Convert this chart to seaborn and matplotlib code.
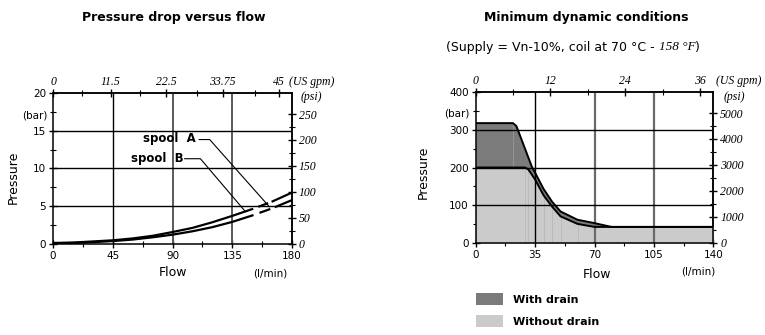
import numpy as np
import pandas as pd
import matplotlib
matplotlib.use("Agg")
import matplotlib.pyplot as plt
import seaborn as sns
from matplotlib.patches import Patch

# ---------------- data ----------------
flow_lmin = [0, 15, 30, 45, 60, 75, 90, 105, 120, 135, 150, 165, 180]
spool_a_bar = [0.1, 0.15, 0.3, 0.45, 0.7, 1.05, 1.55, 2.1, 2.85, 3.7, 4.6, 5.6, 6.8]
spool_b_bar = [0.05, 0.1, 0.2, 0.35, 0.55, 0.85, 1.2, 1.65, 2.2, 2.9, 3.75, 4.7, 5.8]

drain_flow = [0, 22, 24, 33, 35, 40, 45, 50, 60, 70, 80, 140]
drain_bar = [318, 318, 310, 203, 186, 143, 109, 83, 61, 52, 42, 42]
nodrain_flow = [0, 29, 31, 35, 40, 45, 50, 60, 70, 140]
nodrain_bar = [200, 200, 195, 168, 126, 96, 70, 50, 42, 42]

left_xticks = [0, 45, 90, 135, 180]
left_yticks = [0, 5, 10, 15, 20]
left_gpm_ticks = [0, 11.5, 22.5, 33.75, 45]
left_gpm_labels = ["0", "11.5", "22.5", "33.75", "45"]
left_psi_ticks = [0, 50, 100, 150, 200, 250]

right_xticks = [0, 35, 70, 105, 140]
right_yticks = [0, 100, 200, 300, 400]
right_gpm_ticks = [0, 12, 24, 36]
right_psi_ticks = [0, 1000, 2000, 3000, 4000, 5000]

# break (gap) positions on the spool curves, in l/min
break_a = [150.8, 154.6, 162.0, 164.6]
break_b = [151.0, 155.5, 163.7, 167.0]

# annotation leader lines
label_a = ("spool  A", 68, 14.0)
label_b = ("spool  B", 59, 11.35)
leader_a = ([110, 118, 163], [13.85, 13.85, 4.9])
leader_b = ([99, 111, 145], [11.3, 11.3, 4.25])

# ---------------- style ----------------
sns.set_theme(style="white")
plt.rcParams["font.family"] = ["DejaVu Sans"]
plt.rcParams["lines.scale_dashes"] = False
plt.rcParams["text.color"] = "black"
plt.rcParams["axes.labelcolor"] = "black"
plt.rcParams["xtick.color"] = "black"
plt.rcParams["ytick.color"] = "black"

W, H = 765, 335
fig = plt.figure(figsize=(W / 100, H / 100), dpi=100)
fig.patch.set_facecolor("white")


def fx(px):
    return px / W


def fy(py):
    return 1 - py / H


SERIF = dict(family="Liberation Serif", style="italic", size=8.5, color="black")
TICK_FS = 7.5
DARK = "#7b7b7b"
LIGHT = "#cbcbcb"


def style_axes(ax, xticks, yticks, xminor, yminor):
    ax.set_facecolor("white")
    for s in ax.spines.values():
        s.set_visible(True)
        s.set_color("black")
        s.set_linewidth(1.1)
    ax.set_xticks(xticks)
    ax.set_yticks(yticks)
    ax.set_xticks(xminor, minor=True)
    ax.set_yticks(yminor, minor=True)
    ax.tick_params(which="major", direction="inout", length=6, width=1, colors="black",
                   labelsize=TICK_FS, left=True, bottom=True, pad=2)
    ax.tick_params(which="minor", direction="inout", length=4, width=0.8, colors="black",
                   left=True, bottom=True)
    ax.grid(False)
    ax.set_xlabel("")
    ax.set_ylabel("")


# ================= LEFT CHART =================
axL = fig.add_axes([fx(53), fy(243.7), fx(292) - fx(53), fy(93.3) - fy(243.7)])
axL.set_xlim(0, 180)
axL.set_ylim(0, 20)
style_axes(axL, left_xticks, left_yticks,
           np.arange(22.5, 180, 45), np.arange(2.5, 20, 5))

for v, c, lw in [(45, "black", 1.0), (90, "#5a5a5a", 1.4), (135, "#5a5a5a", 1.4)]:
    axL.axvline(v, color=c, lw=lw, zorder=1)
for h in [5, 10, 15]:
    axL.axhline(h, color="black", lw=1.0, zorder=1)

df_left = pd.DataFrame({"flow": flow_lmin * 2,
                        "bar": spool_a_bar + spool_b_bar,
                        "spool": ["A"] * len(flow_lmin) + ["B"] * len(flow_lmin)})
for name, brk in [("A", break_a), ("B", break_b)]:
    d = df_left[df_left.spool == name]
    sns.lineplot(data=d, x="flow", y="bar", ax=axL, color="black", lw=1.6,
                 estimator=None, sort=False, zorder=3)
    line = axL.lines[-1]
    pts = axL.transData.transform(np.column_stack([d.flow.values, d.bar.values]))
    seg = np.hypot(np.diff(pts[:, 0]), np.diff(pts[:, 1])) * 72 / 100
    cum = np.concatenate([[0], np.cumsum(seg)])
    L = np.interp(brk, d.flow.values, cum)
    pattern = (L[0], L[1] - L[0], L[2] - L[1], L[3] - L[2], cum[-1] - L[3] + 50, 1)
    line.set_linestyle((0, pattern))
    line.set_solid_capstyle("butt")
    line.set_dash_capstyle("butt")

axL.set_xlabel("")
axL.set_ylabel("")

for (txt, x, y), (lx, ly) in [(label_a, leader_a), (label_b, leader_b)]:
    axL.text(x, y, txt, fontsize=8.5, fontweight="bold", va="center", ha="left", zorder=5)
    axL.plot(lx, ly, color="black", lw=0.8, zorder=4)

secxL = axL.secondary_xaxis("top", functions=(lambda x: x / 3.785, lambda g: g * 3.785))
secxL.set_xticks(left_gpm_ticks)
secxL.set_xticklabels(left_gpm_labels, fontdict=SERIF)
secxL.set_xticks(np.arange(5.75, 45, 11.5), minor=True)
secxL.tick_params(which="major", direction="inout", length=6, width=1, pad=1)
secxL.tick_params(which="minor", direction="inout", length=4, width=0.8)

secyL = axL.secondary_yaxis("right", functions=(lambda b: b * 14.5, lambda p: p / 14.5))
secyL.set_yticks(left_psi_ticks)
secyL.set_yticklabels([str(t) for t in left_psi_ticks], fontdict=SERIF)
secyL.set_yticks(np.arange(25, 275, 50), minor=True)
secyL.tick_params(which="major", direction="inout", length=6, width=1, pad=2)
secyL.tick_params(which="minor", direction="inout", length=4, width=0.8)

fig.text(fx(174), fy(18), "Pressure drop versus flow", ha="center", va="center",
         fontsize=9, fontweight="bold")
fig.text(fx(13), fy(177), "Pressure", rotation=90, ha="center", va="center", fontsize=9)
fig.text(fx(35), fy(115), "(bar)", ha="center", va="center", fontsize=TICK_FS)
fig.text(fx(173), fy(272), "Flow", ha="center", va="center", fontsize=9)
fig.text(fx(270), fy(273), "(l/min)", ha="center", va="center", fontsize=TICK_FS)
fig.text(fx(289), fy(82), "(US gpm)", ha="left", va="center", **SERIF)
fig.text(fx(311), fy(97), "(psi)", ha="center", va="center", **SERIF)

# ================= RIGHT CHART =================
axR = fig.add_axes([fx(475.7), fy(242.7), fx(713.3) - fx(475.7), fy(92.3) - fy(242.7)])
axR.set_xlim(0, 140)
axR.set_ylim(0, 400)
style_axes(axR, right_xticks, right_yticks,
           np.arange(17.5, 140, 35), np.arange(50, 400, 100))

axR.fill_between(drain_flow, drain_bar, color=DARK, lw=0, zorder=1)
axR.fill_between(nodrain_flow, nodrain_bar, color=LIGHT, lw=0, zorder=1.1)
axR.vlines(drain_flow[1], nodrain_bar[0], drain_bar[1], color="#9a9a9a", lw=0.6, zorder=1.2)
axR.vlines(nodrain_flow[1:-2], 0, nodrain_bar[1:-2], color="#b8b8b8", lw=0.6, zorder=1.2)

for v, c, lw in [(35, "black", 1.0), (70, "#6a6a6a", 1.6), (105, "#6a6a6a", 1.6)]:
    axR.axvline(v, color=c, lw=lw, zorder=2)
for h in [100, 200, 300]:
    axR.axhline(h, color="black", lw=1.0, zorder=2)

df_right = pd.DataFrame({"flow": drain_flow + nodrain_flow,
                         "bar": drain_bar + nodrain_bar,
                         "cond": ["With drain"] * len(drain_flow) + ["Without drain"] * len(nodrain_flow)})
sns.lineplot(data=df_right, x="flow", y="bar", units="cond", estimator=None, sort=False,
             ax=axR, color="black", lw=1.4, zorder=3)
axR.set_xlabel("")
axR.set_ylabel("")

secxR = axR.secondary_xaxis("top", functions=(lambda x: x / 3.67, lambda g: g * 3.67))
secxR.set_xticks(right_gpm_ticks)
secxR.set_xticklabels([str(t) for t in right_gpm_ticks], fontdict=SERIF)
secxR.set_xticks(np.arange(6, 38, 12), minor=True)
secxR.tick_params(which="major", direction="inout", length=6, width=1, pad=1)
secxR.tick_params(which="minor", direction="inout", length=4, width=0.8)

secyR = axR.secondary_yaxis("right", functions=(lambda b: b * 14.5, lambda p: p / 14.5))
secyR.set_yticks(right_psi_ticks)
secyR.set_yticklabels([str(t) for t in right_psi_ticks], fontdict=SERIF)
secyR.set_yticks(np.arange(500, 5500, 1000), minor=True)
secyR.tick_params(which="major", direction="inout", length=6, width=1, pad=2)
secyR.tick_params(which="minor", direction="inout", length=4, width=0.8)

fig.text(fx(586), fy(18), "Minimum dynamic conditions", ha="center", va="center",
         fontsize=9, fontweight="bold")
t1 = fig.text(fx(446), fy(47), "(Supply = Vn-10%, coil at 70 °C - ", ha="left", va="center",
              fontsize=9)
a2 = axL.annotate("158 °F", xy=(1, 0.5), xycoords=t1, va="center", ha="left",
                  fontsize=9.5, family="Liberation Serif", style="italic",
                  annotation_clip=False)
a3 = axL.annotate(")", xy=(1, 0.5), xycoords=a2, va="center", ha="left",
                  fontsize=9, annotation_clip=False)
fig.text(fx(423), fy(172), "Pressure", rotation=90, ha="center", va="center", fontsize=9)
fig.text(fx(457), fy(114), "(bar)", ha="center", va="center", fontsize=TICK_FS)
fig.text(fx(597), fy(274), "Flow", ha="center", va="center", fontsize=9)
fig.text(fx(698), fy(271), "(l/min)", ha="center", va="center", fontsize=TICK_FS)
fig.text(fx(716), fy(81), "(US gpm)", ha="left", va="center", **SERIF)
fig.text(fx(734), fy(97), "(psi)", ha="center", va="center", **SERIF)

fig.legend(handles=[Patch(facecolor=DARK, edgecolor="none"),
                    Patch(facecolor=LIGHT, edgecolor="none")],
           labels=["With drain", "Without drain"],
           loc="upper left", bbox_to_anchor=(fx(476), fy(293)),
           frameon=False, borderpad=0, borderaxespad=0,
           handlelength=2.4, handleheight=1.25, handletextpad=0.9, labelspacing=0.95,
           prop={"weight": "bold", "size": 8})

fig.savefig("out.png", dpi=100, facecolor="white")
